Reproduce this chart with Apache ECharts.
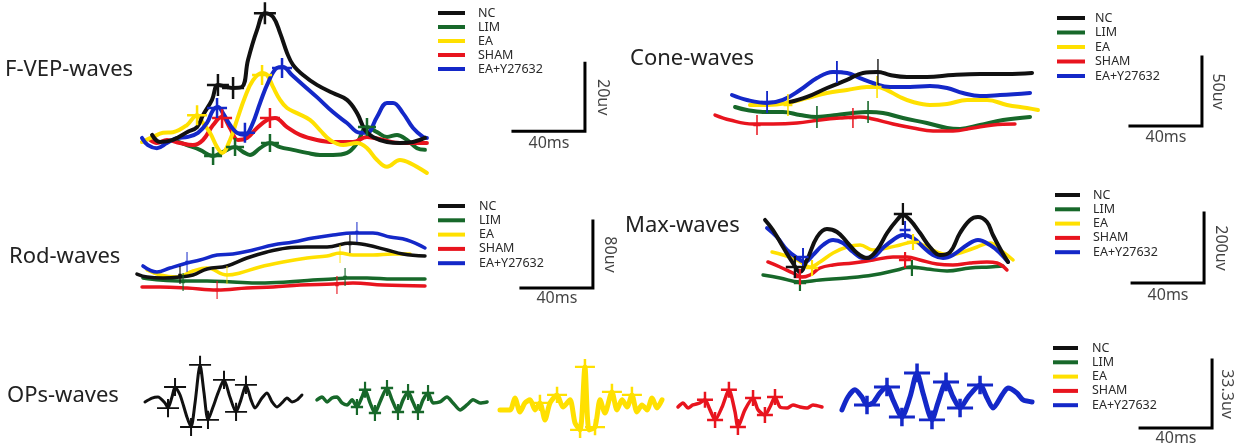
<!DOCTYPE html>
<html>
<head>
<meta charset="utf-8">
<title>ERG / F-VEP waves</title>
<script src="https://cdn.jsdelivr.net/npm/echarts@6/dist/echarts.min.js"></script>
<style>
  html, body { margin: 0; padding: 0; background: #fff; }
  #chart { width: 1245px; height: 448px; }
</style>
</head>
<body>
<div id="chart"></div>
<script>
// groups, same order in every legend
const groups = ["NC", "LIM", "EA", "SHAM", "EA+Y27632"];

// every trace is [time ms, amplitude uv]

// F-VEP
const fvepNC = [[6.7,11.8],[11.1,9.7],[18.3,10.3],[26.1,12.6],[31.7,14.1],[35,17.6],[40,22.1],[43.3,26.5],[48.3,25.9],[51.7,25.6],[56.7,25.9],[60,33.8],[65,42.6],[69.4,47.6],[73.9,46.5],[77.8,41.8],[81.7,35.9],[85,32.4],[90.6,29.4],[98.3,26.5],[107.2,24.1],[115,22.1],[120.6,18.2],[125,13.2],[129.4,11.2],[137.2,9.7],[144.4,9.4],[151.7,9.7],[158.3,10.9]];
const fvepLIM = [[18.3,10.3],[26.1,8.8],[33.3,7.4],[40.6,5.6],[46.1,6.8],[52.8,8.2],[57.2,6.8],[61.1,5.9],[66.7,7.9],[72.2,9.4],[77.8,8.2],[85,7.4],[92.8,6.5],[100,5.9],[107.2,5.9],[115,6.5],[120.6,9.4],[126.1,14.1],[131.7,12.6],[137.2,11.2],[142.8,11.8],[148.3,10.3],[153.9,7.9],[158.3,7.4]];
const fvepEA = [[1.1,9.7],[7.2,11.2],[12.8,12.4],[18.3,12.6],[26.1,14.7],[31.7,17.6],[35,15.3],[38.9,12.4],[42.8,8.2],[45.6,6.5],[50,10.3],[53.9,16.2],[58.3,22.9],[62.8,27.9],[67.8,30],[70.6,29.4],[73.9,25.9],[77.8,22.1],[81.7,19.7],[87.2,18.2],[94.4,16.2],[100,13.2],[105.6,10.3],[112.8,8.8],[120.6,9.4],[126.1,7.9],[131.7,4.4],[137.2,2.4],[144.4,4.4],[150,3.5],[159.4,0.6]];
const fvepSHAM = [[5.6,10.3],[9.4,9.4],[15,10.3],[22.2,9.4],[29.4,8.8],[35,10.3],[40.6,14.7],[45.6,17.1],[50,13.8],[54.4,10.3],[59.4,10.9],[65,13.8],[70.6,16.2],[75,16.8],[81.7,14.1],[88.9,11.8],[98.3,10.3],[107.2,9.7],[118.3,9.7],[126.1,11.2],[135,10.3],[144.4,9.4],[159.4,9.4]];
const fvepEAY = [[1.1,10.9],[4.4,8.8],[9.4,7.9],[15,9.4],[20.6,10.9],[26.7,11.2],[32.2,12.4],[37.2,15.3],[40.6,19.1],[43.3,20],[46.1,18.2],[50,14.7],[53.9,12.4],[58.3,11.8],[62.2,14.7],[66.7,21.2],[71.1,27.1],[76.1,31.5],[79.4,31.8],[84.4,29.4],[90.6,26.5],[98.3,22.9],[107.2,18.5],[115,15.3],[122.2,12.4],[126.1,12.4],[131.7,17.1],[137.2,21.2],[140.6,21.2],[146.1,18.2],[151.7,13.8],[157.2,11.2],[159.4,10.9]];
const fvepNCPeaks = [[43.3,26.5],[51.7,25.6],[69.4,47.6]];
const fvepLIMPeaks = [[40.6,5.6],[52.8,8.2],[72.2,9.4],[126.1,14.1]];
const fvepEAPeaks = [[31.7,17.6],[67.8,29.4]];
const fvepSHAMPeaks = [[45.6,16.8],[72.2,16.8]];
const fvepEAYPeaks = [[42.8,19.7],[58.3,12.4],[78.9,31.5]];

// Cone
const coneNC = [[43.3,27.5],[52.8,31.2],[63.9,37.7],[75,43.5],[83.9,48.6],[92.2,49.3],[98.9,47.1],[108.3,45.7],[119.4,45.7],[133.9,47.1],[148.9,47.8],[163.9,47.8],[177.8,48.6]];
const coneLIM = [[12.8,23.9],[19.4,21.7],[28.3,20.3],[39.4,20.3],[48.9,18.1],[58.3,16.7],[69.4,18.1],[78.3,19.6],[86.7,20.3],[95,19.6],[106.1,15.9],[119.4,12.3],[130.6,8.7],[137.8,8],[148.9,10.9],[161.7,14.5],[176.7,16.7]];
const coneEA = [[21.1,25.4],[30.6,25.4],[41.7,26.8],[52.8,30.4],[63.9,34.1],[75,36.2],[86.1,38.4],[91.7,38.4],[97.2,36.2],[104.4,31.2],[111.7,27.5],[121.1,25.4],[130.6,26.1],[141.7,29],[152.8,29],[163.9,25.4],[175,23.2],[181.1,21.7]];
const coneSHAM = [[1.7,18.1],[10,14.5],[22.8,11.6],[33.9,11.6],[47.2,12.3],[60,14.5],[71.1,15.9],[82.2,16.7],[89.4,15.2],[100.6,11.6],[111.7,8.7],[122.8,6.5],[133.9,6.5],[145,8.7],[156.1,10.9],[168.3,11.6]];
const coneEAY = [[11.1,32.6],[19.4,29],[30.6,26.8],[39.4,29],[48.9,36.2],[58.3,44.9],[67.2,49.3],[75,48.6],[82.2,44.9],[89.4,41.3],[98.9,38.4],[110,38.4],[121.1,39.1],[130.6,37.7],[139.4,34.1],[148.9,31.9],[160,32.6],[176.7,34.1]];
const coneNCPeaks = [[92.2,49.3]];
const coneLIMPeaks = [[58.3,16.7],[86.7,20.3]];
const coneEAPeaks = [[42.2,25.4],[91.7,38.4]];
const coneSHAMPeaks = [[25,10.9],[78.3,15.9]];
const coneEAYPeaks = [[30.6,27.5],[69.4,49.3]];

// Rod
const rodNC = [[1.1,37],[6.7,33.4],[15.6,32.2],[25,33.4],[32.2,35.8],[40,43],[51.1,46.6],[62.2,56.1],[73.3,63.3],[84.4,68.1],[95.6,69.3],[106.7,69.3],[119.4,74],[128.9,71.6],[140,65.7],[148.9,60.9],[161.1,58.5]];
const rodLIM = [[4.4,32.2],[13.9,29.9],[26.7,28.7],[40,28.7],[54.4,27.5],[69.4,26.3],[84.4,27.5],[98.9,29.9],[110,31],[117.8,32.2],[128.9,32.2],[143.3,31],[161.1,31]];
const rodEA = [[6.7,41.8],[13.9,35.8],[23.3,33.4],[32.2,40.6],[40,44.2],[51.1,35.8],[58.3,38.2],[69.4,45.4],[82.2,51.3],[95.6,56.1],[106.7,58.5],[113.9,62.1],[121.1,59.7],[132.2,59.7],[143.3,60.9],[152.8,60.9]];
const rodSHAM = [[3.9,21.5],[13.9,21.5],[28.9,20.3],[45.6,17.9],[62.2,20.3],[76.7,21.5],[91.7,23.9],[110,25.1],[121.1,26.3],[137.8,23.9],[161.1,22.7]];
const rodEAY = [[4.4,46.6],[12.2,39.4],[19.4,44.2],[28.9,50.1],[36.1,53.7],[45.6,59.7],[54.4,60.9],[65.6,65.7],[76.7,71.6],[87.8,75.2],[98.9,80],[110,83.6],[121.1,86],[132.2,86],[141.7,81.2],[151.1,77.6],[161.1,68.1]];
const rodNCPeaks = [[25,35.8],[119.4,72.8]];
const rodLIMPeaks = [[26.7,27.5],[116.7,33.4]];
const rodEAPeaks = [[51.1,35.8],[113.9,60.9]];
const rodSHAMPeaks = [[45.6,17.9],[112.2,23.9]];
const rodEAYPeaks = [[28.9,51.3],[123.3,87.2]];

// Max
const maxNC = [[2.8,228.6],[7.2,200],[12.8,151.4],[18.3,105.7],[22.2,80],[26.1,114.3],[31.7,180],[37.2,202.9],[42.8,194.3],[48.3,165.7],[53.9,134.3],[59.4,120],[65,142.9],[70.6,191.4],[76.1,228.6],[79.4,242.9],[83.3,228.6],[88.9,191.4],[94.4,151.4],[100,128.6],[105.6,137.1],[111.1,191.4],[116.7,228.6],[121.1,237.1],[126.1,222.9],[129.4,185.7],[134.4,137.1],[137.8,108.6]];
const maxLIM = [[1.7,71.4],[11.1,62.9],[22.2,51.4],[33.3,57.1],[48.3,62.9],[62.8,71.4],[76.1,85.7],[83.3,94.3],[92.8,88.6],[103.9,82.9],[116.7,91.4],[127.8,94.3],[135,97.1]];
const maxEA = [[6.7,137.1],[12.8,128.6],[20.6,114.3],[27.8,94.3],[33.3,108.6],[40.6,134.3],[48.3,151.4],[55.6,157.1],[62.8,142.9],[70.6,148.6],[77.8,157.1],[85,165.7],[90.6,157.1],[98.3,137.1],[105.6,128.6],[112.8,137.1],[120.6,151.4],[127.8,162.9],[135,137.1],[140.6,114.3]];
const maxSHAM = [[4.4,108.6],[11.1,94.3],[18.3,77.1],[23.3,65.7],[27.8,71.4],[33.3,91.4],[40.6,100],[51.7,105.7],[62.8,114.3],[73.9,122.9],[81.7,122.9],[88.9,114.3],[98.3,102.9],[107.2,100],[116.7,105.7],[126.1,108.6],[131.7,105.7],[137.2,85.7]];
const maxEAY = [[3.9,205.7],[9.4,180],[15,142.9],[20.6,120],[25,108.6],[29.4,128.6],[35,157.1],[40.6,171.4],[46.1,162.9],[51.7,137.1],[57.2,120],[62.8,122.9],[68.3,148.6],[73.9,171.4],[79.4,185.7],[85,177.1],[90.6,151.4],[96.1,128.6],[101.7,120],[107.2,128.6],[115,157.1],[121.1,171.4],[127.8,157.1],[133.3,134.3],[137.8,108.6]];
const maxNCPeaks = [[19.4,94.3],[79.4,246]];
const maxLIMPeaks = [[22.2,48.6],[84.4,91.4]];
const maxEAPeaks = [[28.9,91.4],[85,165.7]];
const maxSHAMPeaks = [[22.2,65.7],[80.6,114.3]];
const maxEAYPeaks = [[23.9,122.9],[80.6,200]];

// OPs
const opsNC = [[1.1,21.1],[5,23],[8.3,23.5],[12.2,20.6],[13.9,18.1],[16.1,23.5],[17.8,28.4],[20.6,24.5],[24.4,13.7],[26.7,8.8],[28.9,20.6],[31.7,39.2],[33.9,25.5],[36.1,12.3],[38.9,18.6],[41.7,25.5],[45,31.9],[48.3,23.5],[51.7,16.2],[54.4,22.1],[57.2,29.4],[60,22.1],[62.2,18.1],[66.1,23],[68.9,25.5],[71.7,21.1],[74.4,18.6],[77.2,20.6],[80,23],[82.8,21.1],[85.6,22.1],[88.3,24.5]];
const opsLIM = [[1.1,22.1],[3.9,23.5],[6.7,21.1],[9.4,23],[12.2,23.5],[15,20.6],[17.8,19.6],[20.6,22.1],[23.3,18.6],[26.1,23.5],[27.8,27],[30.6,20.6],[33.3,15.7],[36.1,21.1],[40,27.9],[42.8,22.1],[46.1,16.2],[48.9,22.1],[51.7,26],[54.4,21.1],[57.2,16.2],[60,22.1],[62.8,25.5],[65.6,20.6],[69.4,21.1],[73.3,23.5],[76.7,20.6],[80.6,17.2],[84.4,19.6],[87.8,22.1],[91.7,20.6],[95.6,21.1]];
const opsEA = [[1.1,17.2],[6.7,17.2],[9.4,23],[12.2,16.2],[15,20.6],[17.8,22.1],[20.6,17.2],[23.3,20.6],[26.1,12.3],[28.9,20.6],[32.8,24.5],[36.1,18.6],[40,22.1],[42.8,10.8],[45.6,7.4],[48.3,38.2],[50.6,7.4],[53.9,8.8],[56.7,22.1],[59.4,15.7],[63.3,26],[66.1,17.2],[68.9,22.1],[71.7,18.6],[74.4,24.5],[77.2,16.2],[80,19.6],[82.8,17.2],[85.6,23],[88.3,18.1],[91.1,22.1]];
const opsSHAM = [[1.1,18.6],[3.9,20.6],[6.7,18.1],[9.4,19.6],[13.3,20.6],[16.1,22.1],[18.9,17.2],[21.7,12.3],[25.6,18.6],[29.4,27],[32.8,16.2],[34.4,8.8],[38.3,17.2],[42.8,23],[45.6,17.2],[49.4,14.7],[52.2,18.6],[55,23.5],[57.8,18.6],[61.7,18.1],[65,19.6],[68.9,18.6],[72.8,18.1],[76.1,19.6],[81.1,18.6]];
const opsEAY = [[1.1,17.2],[4.4,23.5],[8.3,27],[12.2,23.5],[15,19.6],[18.3,20.6],[22.2,25.5],[26.1,28.4],[29.4,22.1],[34.4,13.7],[38.9,23.5],[42.8,35.3],[46.1,25.5],[51.1,12.3],[54.4,20.6],[58.9,30.9],[62.8,23.5],[66.7,18.1],[71.1,23.5],[77.8,29.4],[81.7,23],[85,18.1],[90,24.5],[93.3,27.9],[98.3,25.5],[101.7,22.1],[106.7,21.1]];
const opsNCPeaks = [[13.9,18.1],[17.8,28.4],[26.7,8.8],[31.7,39.2],[36.1,12.3],[45,31.9],[51.7,16.2],[57.2,29.4]];
const opsLIMPeaks = [[23.3,18.6],[27.8,27],[33.3,15.7],[40,27.9],[46.1,16.2],[51.7,26],[57.2,16.2],[62.8,25.5]];
const opsEAPeaks = [[23.3,20.6],[32.8,24.5],[45.6,7.4],[48.3,38.2],[53.9,8.8],[63.3,26],[74.4,24.5]];
const opsSHAMPeaks = [[16.1,22.1],[21.7,12.3],[29.4,27],[34.4,8.8],[42.8,23],[49.4,14.7],[55,23.5]];
const opsEAYPeaks = [[15,19.6],[26.1,28.4],[34.4,13.7],[42.8,35.3],[51.1,12.3],[58.9,30.9],[66.7,18.1],[77.8,29.4]];

// scale bars: 40 ms across, N uv up
const scaleMs = 40;
const fvepScaleUv = 20;
const coneScaleUv = 50;
const rodScaleUv = 80;
const maxScaleUv = 200;
const opsScaleUv = 33.3;

// ---- styles / layout ----
const groupColors = { "NC": "#111111", "LIM": "#17682a", "EA": "#ffe000", "SHAM": "#e8141e", "EA+Y27632": "#1428c8" };
const fontName = "Noto Sans";

const option = {
  animation: false,
  backgroundColor: "#ffffff",
  title: [],
  legend: [],
  grid: [],
  xAxis: [],
  yAxis: [],
  series: []
};

// a "+" drawn at real pixel size w x h with bar thickness t
function plusSymbol(w, h, t) {
  const a = (w - t) / 2, b = (h - t) / 2;
  return "path://M" + a + ",0H" + (a + t) + "V" + b + "H" + w + "V" + (b + t) + "H" + (a + t) + "V" + h +
    "H" + a + "V" + (b + t) + "H0V" + b + "H" + a + "Z";
}

function addGrid(g) {
  const idx = option.grid.length;
  option.grid.push({
    left: g.left,
    top: g.bottom - g.yMax * g.pxUv,
    width: g.xMax * g.pxMs,
    height: g.yMax * g.pxUv
  });
  option.xAxis.push({ type: "value", gridIndex: idx, min: 0, max: g.xMax, show: false });
  option.yAxis.push({ type: "value", gridIndex: idx, min: 0, max: g.yMax, show: false });
  return idx;
}

function addTrace(gi, name, data, width, smooth) {
  option.series.push({
    name: name,
    type: "line",
    xAxisIndex: gi,
    yAxisIndex: gi,
    data: data,
    symbol: "none",
    smooth: smooth,
    clip: false,
    silent: true,
    itemStyle: { color: groupColors[name] },
    lineStyle: { color: groupColors[name], width: width, cap: "round", join: "round", opacity: 1 }
  });
}

function addPeaks(gi, name, data, sym) {
  option.series.push({
    name: name,
    type: "scatter",
    xAxisIndex: gi,
    yAxisIndex: gi,
    data: data,
    symbol: plusSymbol(sym[0], sym[1], sym[2]),
    symbolSize: [sym[0], sym[1]],
    symbolKeepAspect: true,
    clip: false,
    silent: true,
    z: 3,
    itemStyle: { color: groupColors[name], opacity: 1 }
  });
}

function addScaleBar(gi, anchor, uv, uvText, belowGap, sideGap) {
  const x0 = anchor[0], y0 = anchor[1];
  option.series.push({
    type: "line",
    xAxisIndex: gi,
    yAxisIndex: gi,
    data: [[x0, y0], [x0 + scaleMs, y0], [x0 + scaleMs, y0 + uv]],
    symbol: "none",
    clip: false,
    silent: true,
    lineStyle: { color: "#000", width: 3, cap: "square", join: "miter" }
  });
  const lab = { show: true, fontFamily: fontName, fontSize: 16, color: "#111" };
  option.series.push({
    type: "scatter",
    xAxisIndex: gi,
    yAxisIndex: gi,
    symbolSize: 1,
    clip: false,
    silent: true,
    itemStyle: { color: "rgba(0,0,0,0)" },
    data: [
      { value: [x0 + scaleMs / 2, y0], label: Object.assign({ formatter: scaleMs + "ms", position: "bottom", distance: belowGap }, lab) },
      { value: [x0 + scaleMs, y0 + uv / 2], label: Object.assign({ formatter: uvText, position: "right", distance: sideGap, rotate: -90, align: "center", verticalAlign: "middle" }, lab) }
    ]
  });
}

function addTitle(text, left, top) {
  option.title.push({
    text: text, left: left, top: top, padding: 0,
    textStyle: { fontFamily: fontName, fontSize: 22, fontWeight: "normal", color: "#222" }
  });
}

function addLegend(left, top, iconW, textGap, rowGap) {
  option.legend.push({
    left: left, top: top, orient: "vertical", padding: 0,
    itemGap: rowGap, itemWidth: iconW, itemHeight: 4, icon: "rect",
    selectedMode: false, data: groups,
    textStyle: { fontFamily: fontName, fontSize: 12.5, color: "#2a2a2a", lineHeight: 14, padding: [0, 0, 0, textGap] }
  });
}

function addPanel(layout, traces, peaks, widths, sym, smooth) {
  const gi = addGrid(layout);
  // draw order: back to front
  const order = [1, 3, 2, 4, 0];
  order.forEach(function (k) { addTrace(gi, groups[k], traces[k], widths[k], smooth); });
  order.forEach(function (k) { addPeaks(gi, groups[k], peaks[k], sym[k]); });
  return gi;
}

// F-VEP
const fvepGrid = addPanel(
  { left: 140, bottom: 175, pxMs: 1.8, pxUv: 3.4, xMax: 265, yMax: 50 },
  [fvepNC, fvepLIM, fvepEA, fvepSHAM, fvepEAY],
  [fvepNCPeaks, fvepLIMPeaks, fvepEAPeaks, fvepSHAMPeaks, fvepEAYPeaks],
  [4, 4, 4, 4, 4],
  [[22, 22, 2.5], [18, 18, 2.5], [20, 20, 2.5], [20, 20, 2.5], [20, 20, 2.5]],
  0.4
);
addScaleBar(fvepGrid, [207.2, 12.9], fvepScaleUv, fvepScaleUv + "uv", 4, 17);
addTitle("F-VEP-waves", 5, 59);
addLegend(438, 6, 27, 8, 0);

// Cone
const coneGrid = addPanel(
  { left: 712, bottom: 140, pxMs: 1.8, pxUv: 1.38, xMax: 290, yMax: 72 },
  [coneNC, coneLIM, coneEA, coneSHAM, coneEAY],
  [coneNCPeaks, coneLIMPeaks, coneEAPeaks, coneSHAMPeaks, coneEAYPeaks],
  [4, 4, 4, 3.5, 4],
  [[14, 26, 2.5], [14, 22, 2.5], [14, 22, 2.5], [12, 20, 2.5], [16, 22, 2.5]],
  0.4
);
addScaleBar(coneGrid, [232.2, 10.1], coneScaleUv, coneScaleUv + "uv", 3, 15);
addTitle("Cone-waves", 630, 48);
addLegend(1057, 11, 28, 5, 0.5);

// Rod
const rodGrid = addPanel(
  { left: 135, bottom: 305, pxMs: 1.8, pxUv: 0.8375, xMax: 270, yMax: 125 },
  [rodNC, rodLIM, rodEA, rodSHAM, rodEAY],
  [rodNCPeaks, rodLIMPeaks, rodEAPeaks, rodSHAMPeaks, rodEAYPeaks],
  [3.5, 3.5, 3.5, 3.5, 3.5],
  [[8, 18, 2.5], [8, 18, 2.5], [8, 18, 2], [8, 18, 2.5], [8, 20, 2.5]],
  0.4
);
addScaleBar(rodGrid, [214.4, 20.3], rodScaleUv, rodScaleUv + "uv", 2, 16);
addTitle("Rod-waves", 9, 246);
addLegend(438, 199, 27, 9, 0.3);

// Max
const maxGrid = addPanel(
  { left: 760, bottom: 300, pxMs: 1.8, pxUv: 0.35, xMax: 265, yMax: 320 },
  [maxNC, maxLIM, maxEA, maxSHAM, maxEAY],
  [maxNCPeaks, maxLIMPeaks, maxEAPeaks, maxSHAMPeaks, maxEAYPeaks],
  [4, 3.5, 3.5, 3.5, 4],
  [[20, 22, 2.5], [14, 16, 2.5], [14, 16, 2.5], [14, 16, 2.5], [14, 18, 2.5]],
  0.4
);
addScaleBar(maxGrid, [206.7, 48.6], maxScaleUv, maxScaleUv + "uv", 4, 16);
addTitle("Max-waves", 625, 215);
addLegend(1055, 188, 25, 8, 0.3);

// OPs: one small grid per group, same scale
const opsTraces = [opsNC, opsLIM, opsEA, opsSHAM, opsEAY];
const opsPeaks = [opsNCPeaks, opsLIMPeaks, opsEAPeaks, opsSHAMPeaks, opsEAYPeaks];
const opsLefts = [143, 315, 498, 676, 840];
const opsWidths = [3, 3.5, 5, 3.5, 5];
const opsSyms = [[22, 20, 2], [14, 16, 2.5], [20, 18, 2.5], [16, 16, 2.5], [26, 22, 3.5]];
let opsLastGrid = 0;
groups.forEach(function (name, k) {
  const gi = addGrid({ left: opsLefts[k], bottom: 445, pxMs: 1.8, pxUv: 2.042, xMax: k === 4 ? 220 : 100, yMax: 47 });
  addTrace(gi, name, opsTraces[k], opsWidths[k], 0.25);
  addPeaks(gi, name, opsPeaks[k], opsSyms[k]);
  opsLastGrid = gi;
});
addScaleBar(opsLastGrid, [166.7, 8.3], opsScaleUv, opsScaleUv + "uv", 2, 14);
addTitle("OPs-waves", 7, 385);
addLegend(1053, 341, 25, 9, 0.3);

const myChart = echarts.init(document.getElementById("chart"));
myChart.setOption(option);
</script>
</body>
</html>
